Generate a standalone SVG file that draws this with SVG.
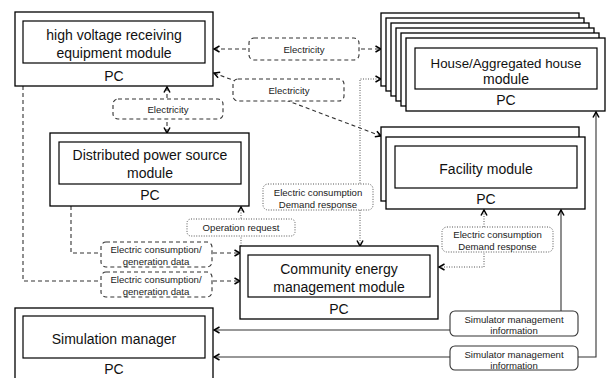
<svg xmlns="http://www.w3.org/2000/svg" width="609" height="378" viewBox="0 0 609 378">
<defs>
<marker id="a" viewBox="0 0 8 8" refX="7" refY="4" markerWidth="8" markerHeight="8" markerUnits="userSpaceOnUse" orient="auto-start-reverse"><path d="M1.5,1 L7,4 L1.5,7" fill="none" stroke="#000" stroke-width="1.5"/></marker>
<style>
.box{fill:#fff;stroke:#000;stroke-width:1.3}
.in{fill:none;stroke:#000;stroke-width:1.2}
.t{font-family:"Liberation Sans",Arial,sans-serif;font-size:14px;text-anchor:middle;fill:#111}
.s{font-family:"Liberation Sans",Arial,sans-serif;font-size:9.6px;text-anchor:middle;fill:#222}
.dash{fill:none;stroke:#333;stroke-width:1.1;stroke-dasharray:4 3}
.dot{fill:none;stroke:#555;stroke-width:1;stroke-dasharray:1 1.5}
.sol{fill:none;stroke:#333;stroke-width:1.1}
.ldash{fill:#fff;stroke:#333;stroke-width:1.1;stroke-dasharray:4 3}
.ldot{fill:#fff;stroke:#555;stroke-width:1;stroke-dasharray:1 1.5}
.lsol{fill:#fff;stroke:#333;stroke-width:1.1}
</style>
</defs>
<rect width="609" height="378" fill="#fff"/>
<g id="connectors">
<path class="dash" d="M214,49 L381,49" marker-start="url(#a)" marker-end="url(#a)"/>
<rect class="ldash" x="249" y="38" width="110" height="22" rx="5"/>
<text class="s" x="304" y="52.5">Electricity</text>
<path class="dash" d="M214,73 L381,136" marker-start="url(#a)" marker-end="url(#a)"/>
<rect class="ldash" x="233" y="79" width="111" height="22" rx="5"/>
<text class="s" x="289" y="93.5">Electricity</text>
<path class="dash" d="M167,87 L167,133" marker-start="url(#a)" marker-end="url(#a)"/>
<rect class="ldash" x="113" y="99" width="110" height="20" rx="5"/>
<text class="s" x="168" y="112.5">Electricity</text>
<path class="dot" d="M360,246 L360,79 L381,79" marker-start="url(#a)" marker-end="url(#a)"/>
<rect class="ldot" x="263" y="184" width="110" height="26" rx="5"/>
<text class="s" x="318" y="196">Electric consumption</text>
<text class="s" x="318" y="207.5">Demand response</text>
<path class="dot" d="M241,246 L241,207" marker-end="url(#a)"/>
<rect class="ldot" x="187" y="219" width="108" height="17" rx="4"/>
<text class="s" x="241" y="231">Operation request</text>
<path class="dash" d="M71,206 L71,253 L240,253" marker-end="url(#a)"/>
<rect class="ldash" x="101" y="242" width="111" height="25" rx="5"/>
<text class="s" x="156" y="252.5">Electric consumption/</text>
<text class="s" x="156" y="264.5">generation data</text>
<path class="dash" d="M23,86 L23,281 L240,281" marker-end="url(#a)"/>
<rect class="ldash" x="101" y="272" width="111" height="25" rx="5"/>
<text class="s" x="156" y="283">Electric consumption/</text>
<text class="s" x="156" y="295">generation data</text>
<path class="dot" d="M439,267 L484,267 L484,210" marker-start="url(#a)" marker-end="url(#a)"/>
<rect class="ldot" x="442" y="227" width="111" height="25" rx="5"/>
<text class="s" x="497.5" y="237.5">Electric consumption</text>
<text class="s" x="497.5" y="249.5">Demand response</text>
<path class="sol" d="M214,330 L561,330 L561,210" marker-start="url(#a)" marker-end="url(#a)"/>
<rect class="lsol" x="450" y="311" width="128" height="25" rx="5"/>
<text class="s" x="514" y="322.5">Simulator management</text>
<text class="s" x="514" y="334">information</text>
<path class="sol" d="M214,357 L596,357 L596,112" marker-start="url(#a)" marker-end="url(#a)"/>
<rect class="lsol" x="450" y="346" width="128" height="24" rx="5"/>
<text class="s" x="514" y="357.5">Simulator management</text>
<text class="s" x="514" y="369">information</text>
</g>
<g id="hv">
<rect class="box" x="15" y="12" width="198" height="74"/>
<rect class="in" x="23" y="21" width="182" height="42"/>
<text class="t" x="114" y="39.5">high voltage receiving</text>
<text class="t" x="114" y="58">equipment module</text>
<text class="t" x="114" y="81">PC</text>
</g>
<g id="house">
<rect class="box" x="381" y="13" width="198" height="73"/>
<rect class="box" x="386" y="18" width="198" height="73"/>
<rect class="box" x="391" y="23" width="198" height="73"/>
<rect class="box" x="396" y="28" width="198" height="73"/>
<rect class="box" x="401" y="33" width="198" height="73"/>
<rect class="box" x="406" y="38" width="199" height="73"/>
<rect class="in" x="415" y="48" width="182" height="41"/>
<text class="t" x="506" y="67.5" style="font-size:13.3px">House/Aggregated house</text>
<text class="t" x="506" y="83.5">module</text>
<text class="t" x="506" y="104.5">PC</text>
</g>
<g id="dps">
<rect class="box" x="50" y="133" width="199" height="73"/>
<rect class="in" x="59" y="142" width="182" height="42"/>
<text class="t" x="150" y="159.5">Distributed power source</text>
<text class="t" x="150" y="178">module</text>
<text class="t" x="150" y="200">PC</text>
</g>
<g id="facility">
<rect class="box" x="381" y="127" width="198" height="74"/>
<rect class="box" x="386" y="137" width="199" height="72"/>
<rect class="in" x="395" y="146" width="182" height="42"/>
<text class="t" x="486" y="173.5">Facility module</text>
<text class="t" x="486" y="204">PC</text>
</g>
<g id="cems">
<rect class="box" x="240" y="246" width="198" height="73"/>
<rect class="in" x="248" y="255" width="182" height="42"/>
<text class="t" x="339" y="273.5">Community energy</text>
<text class="t" x="339" y="291.5">management module</text>
<text class="t" x="339" y="313.5">PC</text>
</g>
<g id="simmgr">
<rect class="box" x="15" y="308" width="198" height="80"/>
<rect class="in" x="23" y="316" width="182" height="42"/>
<text class="t" x="114" y="344">Simulation manager</text>
<text class="t" x="114" y="374">PC</text>
</g>
</svg>
